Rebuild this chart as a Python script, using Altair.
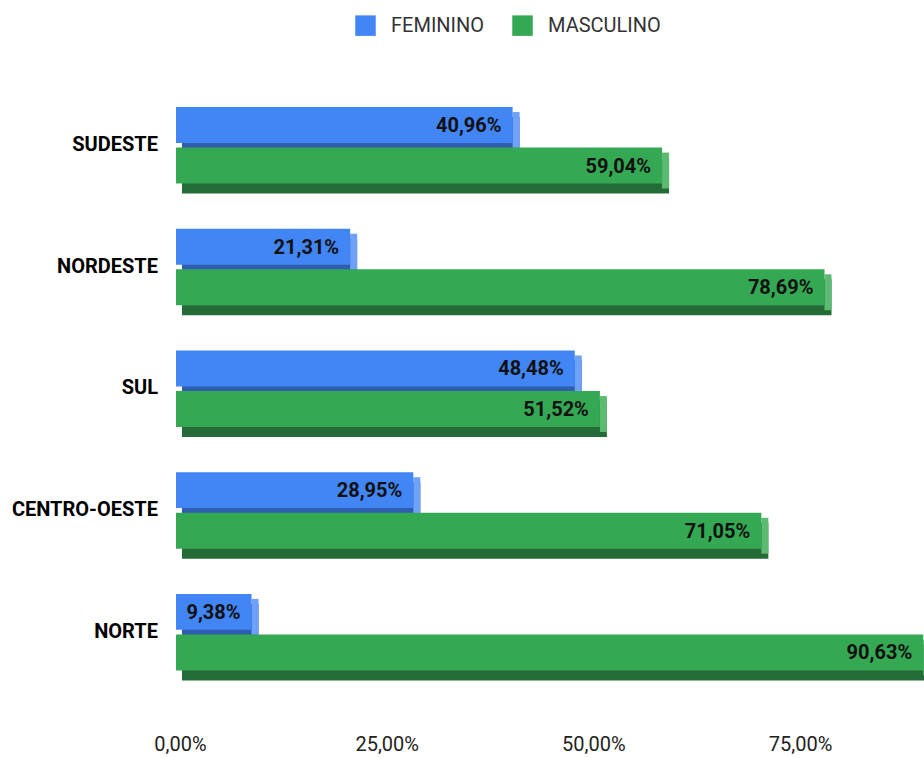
import altair as alt
import pandas as pd

regions = ["SUDESTE", "NORDESTE", "SUL", "CENTRO-OESTE", "NORTE"]
feminino = [40.96, 21.31, 48.48, 28.95, 9.38]
masculino = [59.04, 78.69, 51.52, 71.05, 90.63]
series = ["FEMININO", "MASCULINO"]
tick_values = [0, 25, 50, 75]

FONT = "Roboto"

rows = []
for r, f, m in zip(regions, feminino, masculino):
    rows.append({"region": r, "series": "FEMININO", "value": f, "key": r + "|F"})
    rows.append({"region": r, "series": "MASCULINO", "value": m, "key": r + "|M"})
df = pd.DataFrame(rows)

domain = []
for r in regions:
    domain += [r + "|F", r + "|M", r + "|gap"]

yscale = alt.Scale(domain=domain, paddingInner=0.115, paddingOuter=0)
xscale = alt.Scale(domain=[0, 90], nice=False, zero=True)

xaxis = alt.Axis(
    values=tick_values,
    labelExpr="replace(format(datum.value, '.2f'), '.', ',') + '%'",
    domain=False, ticks=False, grid=False, title=None,
    labelFont=FONT, labelFontSize=20, labelColor="#222222",
    labelPadding=23, labelFlush=False,
)

base = alt.Chart(df)

back = base.mark_rect(xOffset=1, x2Offset=2, yOffset=10, y2Offset=10).encode(
    x=alt.X("value:Q", scale=xscale, axis=xaxis),
    x2=alt.X2(datum=0),
    y=alt.Y("key:N", scale=yscale, axis=None),
    color=alt.Color("series:N", scale=alt.Scale(domain=series, range=["#2F5DB0", "#246B37"]), legend=None),
)

side = base.mark_rect(xOffset=1, x2Offset=-6, yOffset=5, y2Offset=5).encode(
    x=alt.X("value:Q", scale=xscale, axis=xaxis),
    x2=alt.X2("value:Q"),
    y=alt.Y("key:N", scale=yscale, axis=None),
    color=alt.Color("series:N", scale=alt.Scale(domain=series, range=["#6EA1F7", "#5DBA73"]), legend=None),
)

front = base.mark_rect(xOffset=-6, x2Offset=-4).encode(
    x=alt.X("value:Q", scale=xscale, axis=xaxis),
    x2=alt.X2(datum=0),
    y=alt.Y("key:N", scale=yscale, axis=None),
    color=alt.Color(
        "series:N",
        scale=alt.Scale(domain=series, range=["#4285F4", "#34A853"]),
        legend=alt.Legend(
            orient="none", legendX=175, legendY=-92, direction="horizontal",
            title=None, symbolType="square", symbolSize=420, symbolStrokeWidth=0,
            labelFont=FONT, labelFontSize=20, labelColor="#333333",
            labelOffset=15, columnPadding=27, padding=0,
        ),
    ),
)

values = base.transform_calculate(
    label="replace(format(datum.value, '.2f'), '.', ',') + '%'"
).mark_text(align="right", baseline="middle", dx=-17, dy=1, font=FONT, fontSize=20,
            fontWeight="bold", color="#111111").encode(
    x=alt.X("value:Q", scale=xscale, axis=xaxis),
    y=alt.Y("key:N", scale=yscale, axis=None),
    text="label:N",
)

region_labels = base.transform_filter(alt.datum.series == "FEMININO").mark_text(
    align="right", baseline="middle", dy=2, font=FONT, fontSize=20, fontWeight="bold",
    color="#000000",
).encode(
    x=alt.value(-22),
    y=alt.Y("key:N", scale=yscale, axis=None, bandPosition=1),
    text="region:N",
)

chart = alt.layer(back, side, front, values, region_labels).resolve_scale(
    color="independent"
).properties(
    width=744, height=604,
    autosize=alt.AutoSizeParams(type="none"),
    padding={"left": 180, "top": 107, "right": 0, "bottom": 47},
).configure_view(stroke=None)

chart.save("out.html", embed_options={"renderer": "svg", "actions": False})
